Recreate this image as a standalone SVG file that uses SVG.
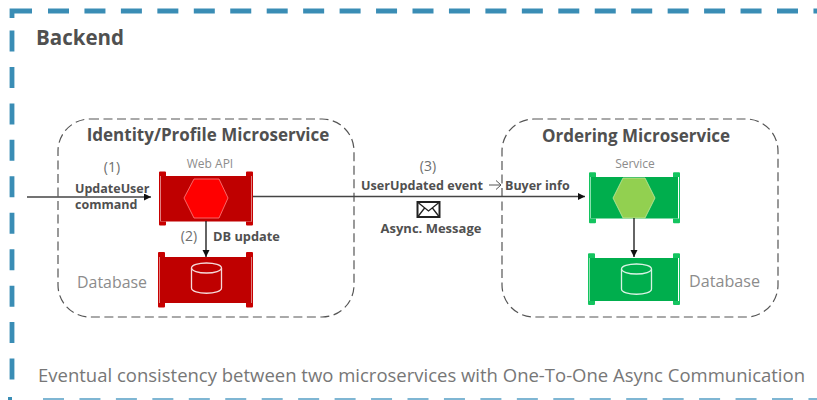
<svg xmlns="http://www.w3.org/2000/svg" width="817" height="400" viewBox="0 0 817 400">
<defs>
<marker id="arr" markerWidth="8" markerHeight="8" refX="7" refY="3.500" orient="auto" markerUnits="userSpaceOnUse"><path d="M0,0 L7,3.500 L0,7 Z" fill="#111"/></marker>
<g id="cyl" fill="none" stroke="#fff" stroke-width="1.300" opacity="0.85"><ellipse cx="15.500" cy="5" rx="15" ry="5"/><path d="M0.500,5 V25 C0.500,32 30.500,32 30.500,25 V5"/></g>
</defs>
<style>
text{font-family:"Open Sans","Noto Sans","DejaVu Sans",sans-serif}
.b{font-weight:700;fill:#505050}
.l{fill:#6e6e6e}
.s{font-size:12.500px;font-weight:700;fill:#505050}
.t{font-size:17px;font-weight:700;fill:#505050}
.db{font-size:17px;fill:#8c8c8c}
.box{fill:none;stroke:#555;stroke-width:1.200;stroke-dasharray:9 4.500}
.red{fill:#bf0000}
.redE{fill:#c80000}
.grn{fill:#00ae4d}
.grnE{fill:#14c45f}
.c{fill:none;stroke:#444;stroke-width:1.500}
.d{fill:none;stroke:#111;stroke-width:1.300}
.dash{fill:none;stroke:#3a8db5;stroke-width:4.800;stroke-dasharray:21 15.450}
</style>
<g id="backend">
<path d="M12,18 V11 H32" fill="none" stroke="#3a8db5" stroke-width="4.800"/>
<path class="dash" d="M48,11 H817"/>
<path class="dash" d="M12,30.500 V385"/>
<path d="M10,400 V397" fill="none" stroke="#3a8db5" stroke-width="4"/>
<path class="dash" style="stroke:#7fb6d3" d="M43,400.500 H817"/>
<text x="36" y="44.500" font-size="20.500" class="b">Backend</text>
<text x="38" y="382" font-size="18" fill="#777" textLength="767" lengthAdjust="spacingAndGlyphs">Eventual consistency between two microservices with One-To-One Async Communication</text>
</g>
<g id="identity-service">
<rect class="box" x="58" y="119" width="296" height="198" rx="32"/>
<text x="208" y="141" text-anchor="middle" class="t">Identity/Profile Microservice</text>
</g>
<g id="ordering-service">
<rect class="box" x="502" y="119" width="276" height="198" rx="32"/>
<text x="636" y="142" text-anchor="middle" class="t">Ordering Microservice</text>
</g>
<g id="web-api">
<text x="210" y="168" text-anchor="middle" font-size="12" fill="#8c8c8c">Web API</text>
<rect class="red" x="161" y="176" width="90.500" height="45.500"/>
<path class="redE" d="M159,172.500 Q159,171.500 160,171.500 H165 Q166,171.500 166,172.500 V176 H160.500 V221.500 H166 V224.500 Q166,225.500 165,225.500 H160 Q159,225.500 159,224.500 Z M253,172.500 Q253,171.500 252,171.500 H247 Q246,171.500 246,172.500 V176 H252 V221.500 H246 V224.500 Q246,225.500 247,225.500 H252 Q253,225.500 253,224.500 Z"/>
<polygon points="184,198 194,179 219,179 228,198 219,218 194,218" fill="#ff0000" stroke="#ff8080" stroke-width="0.800"/>
</g>
<g id="identity-db">
<rect class="red" x="160" y="257" width="91.500" height="46"/>
<path class="redE" d="M158,253 Q158,252 159,252 H164 Q165,252 165,253 V257 H159.500 V303 H165 V306.500 Q165,307.500 164,307.500 H159 Q158,307.500 158,306.500 Z M253,253 Q253,252 252,252 H247 Q246,252 246,253 V257 H252 V303 H246 V306.500 Q246,307.500 247,307.500 H252 Q253,307.500 253,306.500 Z"/>
<use href="#cyl" x="191" y="263"/>
<text x="77" y="288" class="db" textLength="70" lengthAdjust="spacingAndGlyphs">Database</text>
</g>
<g id="service">
<text x="635" y="168" text-anchor="middle" font-size="12" fill="#8c8c8c">Service</text>
<rect class="grn" x="591" y="177" width="87" height="41.500"/>
<path class="grnE" d="M589,173.300 Q589,172.300 590,172.300 H595 Q596,172.300 596,173.300 V177 H590.500 V218.500 H596 V222.300 Q596,223.300 595,223.300 H590 Q589,223.300 589,222.300 Z M680,173.300 Q680,172.300 679,172.300 H674 Q673,172.300 673,173.300 V177 H679 V218.500 H673 V222.300 Q673,223.300 674,223.300 H679 Q680,223.300 680,222.300 Z"/>
<polygon points="613,198 623,178 645,178 655,198 645,218 623,218" fill="#92d050" stroke="#c5e6a0" stroke-width="0.800"/>
</g>
<g id="ordering-db">
<rect class="grn" x="590" y="258" width="88" height="43"/>
<path class="grnE" d="M588,254.300 Q588,253.300 589,253.300 H594 Q595,253.300 595,254.300 V258 H589.500 V301 H595 V304 Q595,305 594,305 H589 Q588,305 588,304 Z M680,254.300 Q680,253.300 679,253.300 H674 Q673,253.300 673,254.300 V258 H679 V301 H673 V304 Q673,305 674,305 H679 Q680,305 680,304 Z"/>
<use href="#cyl" x="621" y="264"/>
<text x="689" y="287" class="db" textLength="71" lengthAdjust="spacingAndGlyphs">Database</text>
</g>
<g id="connectors">
<path class="c" d="M27,197 H151" marker-end="url(#arr)"/>
<path class="c" d="M253,196.500 H585" marker-end="url(#arr)"/>
<path class="d" d="M206,221 V257" marker-end="url(#arr)"/>
<path class="d" d="M634,218 V257" marker-end="url(#arr)"/>
</g>
<g id="labels">
<text x="112" y="172" text-anchor="middle" font-size="14" class="l">(1)</text>
<text class="s"><tspan x="75" y="193">UpdateUser</tspan><tspan x="75" y="209">command</tspan></text>
<text x="189" y="241" text-anchor="middle" font-size="14" class="l">(2)</text>
<text x="213" y="241" class="s" style="font-size:12.800px">DB update</text>
<text x="428" y="171" text-anchor="middle" font-size="14" class="l">(3)</text>
<text x="361" y="190" class="s" textLength="122" lengthAdjust="spacingAndGlyphs">UserUpdated event</text>
<path d="M496,180.500 L501,185 L496,189.500 M489,185 H501" fill="none" stroke="#555" stroke-width="1"/>
<text x="505" y="190" class="s">Buyer info</text>
<text x="431" y="233" text-anchor="middle" class="s" style="font-size:13px">Async. Message</text>
</g>
<g id="envelope">
<rect x="417.500" y="202" width="22" height="15" fill="#fff" stroke="#222" stroke-width="2"/>
<path d="M418,202.500 L428.500,211 L439,202.500 M418,216.500 L425,207.500 M439,216.500 L432,207.500" fill="none" stroke="#222" stroke-width="1.300"/>
</g>
</svg>
